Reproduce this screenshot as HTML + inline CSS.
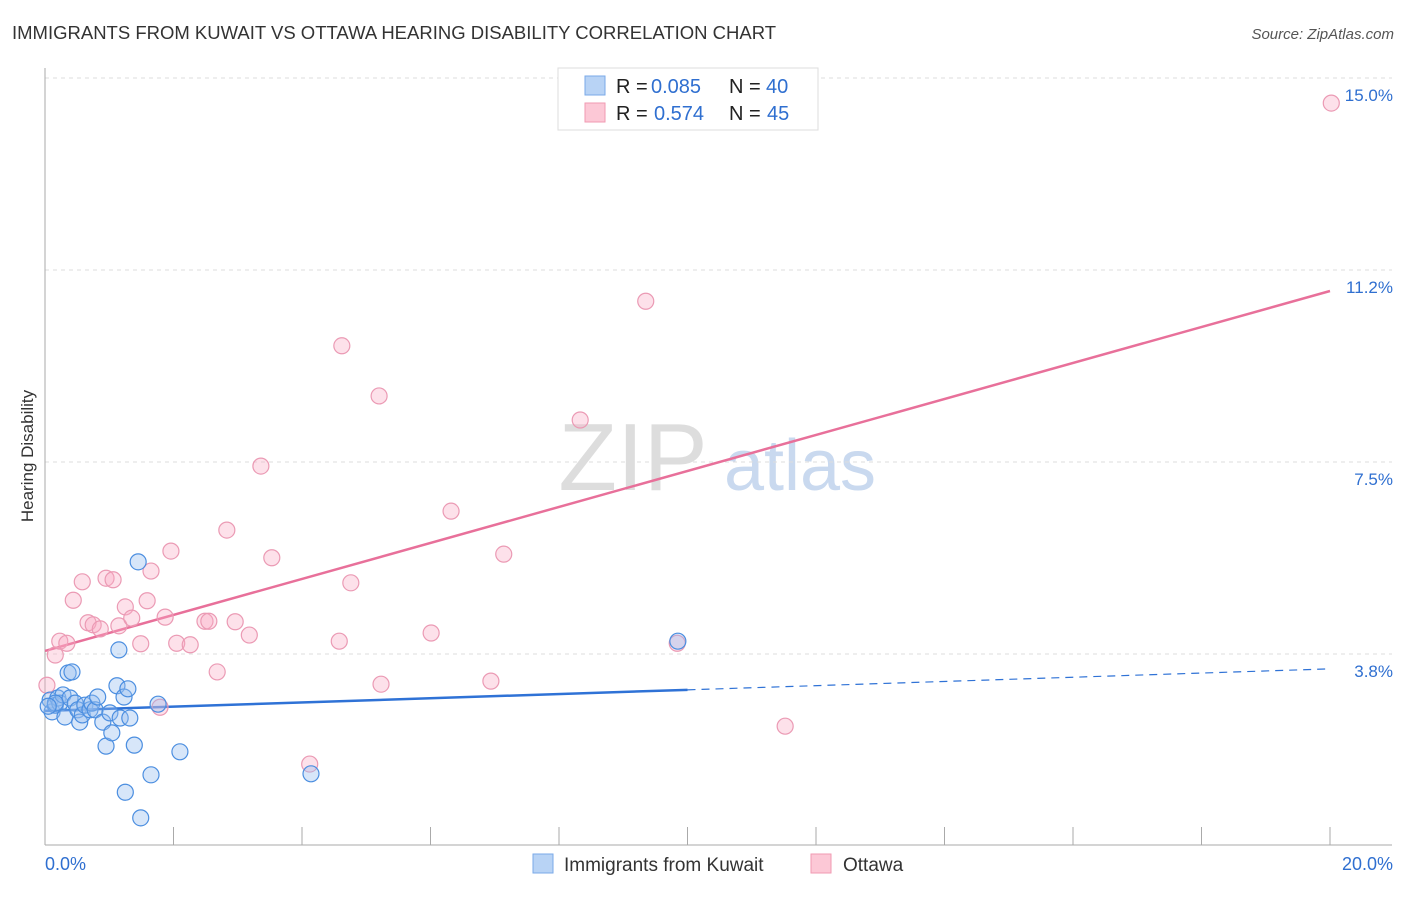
<!DOCTYPE html>
<html><head><meta charset="utf-8"><style>
body{margin:0;background:#fff;font-family:"Liberation Sans",sans-serif;}
svg text{font-family:"Liberation Sans",sans-serif;}
</style></head><body>
<svg id="chart" width="1406" height="892" xmlns="http://www.w3.org/2000/svg">
<text x="12" y="39" font-size="18.5" fill="#333">IMMIGRANTS FROM KUWAIT VS OTTAWA HEARING DISABILITY CORRELATION CHART</text>
<text x="1394" y="39" font-size="15" fill="#555" font-style="italic" text-anchor="end">Source: ZipAtlas.com</text>
<text x="0" y="0" transform="translate(33,456) rotate(-90)" font-size="17" fill="#333" text-anchor="middle">Hearing Disability</text>
<g>
<text x="633" y="490" font-size="96" font-family="Liberation Serif,serif" fill="#ddd" text-anchor="middle">ZIP</text>
<text x="800" y="490" font-size="72" fill="#c9d9ef" text-anchor="middle">atlas</text>
</g>
<g id="grid"></g>
<g id="axes"></g>
<g id="lines"></g>
<g id="points"></g>
<g>
<rect x="558" y="68" width="260" height="62" fill="#fff" stroke="#ddd"/>
<rect x="585" y="76" width="20" height="19" fill="#b8d3f5" stroke="#7aa9e8"/>
<rect x="585" y="103" width="20" height="19" fill="#fcc8d6" stroke="#f09ab2"/>
<text x="616" y="93" font-size="20" fill="#222">R =</text>
<text x="651" y="93" font-size="20" fill="#2f6fd0">0.085</text>
<text x="729" y="93" font-size="20" fill="#222">N =</text>
<text x="766" y="93" font-size="20" fill="#2f6fd0">40</text>
<text x="616" y="120" font-size="20" fill="#222">R =</text>
<text x="654" y="120" font-size="20" fill="#2f6fd0">0.574</text>
<text x="729" y="120" font-size="20" fill="#222">N =</text>
<text x="767" y="120" font-size="20" fill="#2f6fd0">45</text>
</g>
<g>
<rect x="533" y="854" width="20" height="19" fill="#b8d3f5" stroke="#7aa9e8"/>
<text x="564" y="871" font-size="19" fill="#333">Immigrants from Kuwait</text>
<rect x="811" y="854" width="20" height="19" fill="#fcc8d6" stroke="#f09ab2"/>
<text x="843" y="871" font-size="19" fill="#333">Ottawa</text>
</g>
</svg>
<script>
const yTicks=[3.75,7.5,11.25,15];
const yTickLabels=["3.8%","7.5%","11.2%","15.0%"];
const xTickLabels=["0.0%","20.0%"];
const kuwaitX=[0.08,0.11,0.16,0.20,0.23,0.28,0.31,0.36,0.39,0.42,0.47,0.51,0.54,0.58,0.62,0.70,0.73,0.78,0.82,0.90,0.95,1.01,1.04,1.12,1.15,1.17,1.23,1.25,1.29,1.32,1.39,1.45,1.49,1.65,1.76,2.10,4.14,9.85,0.16,0.05];
const kuwaitY=[2.85,2.62,2.75,2.89,2.79,2.95,2.52,3.38,2.89,3.40,2.79,2.66,2.42,2.56,2.75,2.66,2.79,2.66,2.91,2.42,1.95,2.60,2.21,3.13,3.83,2.50,2.91,1.05,3.07,2.50,1.97,5.55,0.55,1.39,2.77,1.84,1.41,4.00,2.79,2.73];
const ottawaX=[0.03,0.16,0.23,0.34,0.44,0.58,0.67,0.75,0.86,0.95,1.06,1.15,1.25,1.35,1.49,1.59,1.65,1.79,1.87,1.96,2.05,2.26,2.49,2.55,2.68,2.83,2.96,3.18,3.36,3.53,4.12,4.58,4.62,4.76,5.20,5.23,6.01,6.32,6.94,7.14,8.33,9.35,9.84,11.52,20.02];
const ottawaY=[3.14,3.73,4.00,3.96,4.80,5.16,4.36,4.32,4.24,5.23,5.20,4.30,4.67,4.45,3.95,4.79,5.37,2.71,4.47,5.76,3.96,3.93,4.39,4.39,3.40,6.17,4.38,4.12,7.42,5.63,1.60,4.00,9.77,5.14,8.79,3.16,4.16,6.54,3.22,5.70,8.32,10.64,3.96,2.34,14.51];
const kuwaitTrend=[2.64,3.46];
const ottawaTrend=[3.81,10.84];
const NS="http://www.w3.org/2000/svg";
const xs=v=>45+v*64.25, ys=v=>846-v*51.2;
function mk(t,a,p){const e=document.createElementNS(NS,t);for(const k in a)e.setAttribute(k,a[k]);document.getElementById(p).appendChild(e);return e;}
yTicks.forEach((v,i)=>{
 const g=mk('line',{x1:45,x2:1392,y1:ys(v),y2:ys(v),stroke:'#ddd','stroke-dasharray':'4,4'},'grid');
 
 
 const t=mk('text',{x:1393,y:ys(v)+23,'font-size':17,fill:'#2f6fd0','text-anchor':'end'},'grid');
 t.textContent=yTickLabels[i];
 
 
});
const ax=mk('line',{x1:45,x2:45,y1:68,y2:845,stroke:'#aaa'},'axes');


const bx=mk('line',{x1:45,x2:1392,y1:845,y2:845,stroke:'#aaa'},'axes');


for(let i=1;i<=10;i++){
 const t=mk('line',{x1:xs(i*2),x2:xs(i*2),y1:827,y2:845,stroke:'#aaa'},'axes');
 
 
}
[[0,'start',45],[20,'end',1393]].forEach((d,i)=>{
 const t=mk('text',{x:d[2],y:870,'font-size':18,fill:'#2f6fd0','text-anchor':d[1]},'axes');
 t.textContent=xTickLabels[i];
 
 
});
const pl=mk('line',{x1:xs(0),y1:ys(ottawaTrend[0]),x2:xs(20),y2:ys(ottawaTrend[1]),stroke:'#e8709a','stroke-width':2.5},'lines');


const kmid=kuwaitTrend[0]+(kuwaitTrend[1]-kuwaitTrend[0])*0.5;
const bl=mk('line',{x1:xs(0),y1:ys(kuwaitTrend[0]),x2:xs(10),y2:ys(kmid),stroke:'#2f72d6','stroke-width':2.5},'lines');


const bd=mk('line',{x1:xs(10),y1:ys(kmid),x2:xs(20),y2:ys(kuwaitTrend[1]),stroke:'#2f72d6','stroke-width':1.2,'stroke-dasharray':'8,6'},'lines');


ottawaX.forEach((x,i)=>{
 const c=mk('circle',{cx:xs(x),cy:ys(ottawaY[i]),r:8,fill:'rgba(248,170,195,0.35)',stroke:'#eb9ab4','stroke-width':1.2},'points');
 
 
});
kuwaitX.forEach((x,i)=>{
 const c=mk('circle',{cx:xs(x),cy:ys(kuwaitY[i]),r:8,fill:'rgba(150,190,240,0.38)',stroke:'#4b8ee0','stroke-width':1.2},'points');
 
 
});
</script>
</body></html>
